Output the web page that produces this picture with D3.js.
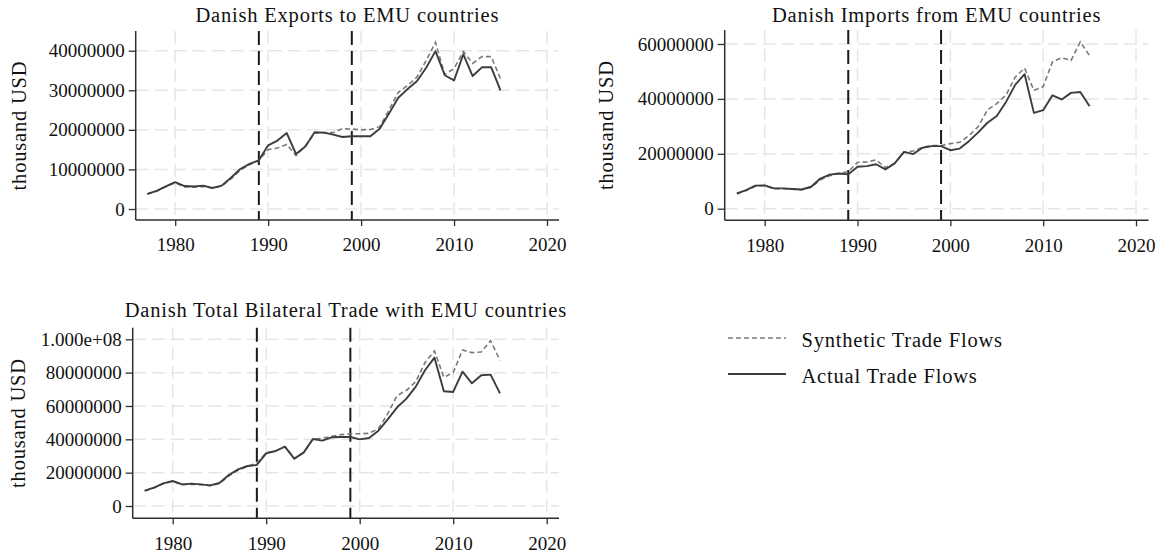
<!DOCTYPE html>
<html>
<head>
<meta charset="utf-8">
<script src="https://cdn.jsdelivr.net/npm/d3@7"></script>
<style>
  html, body { margin: 0; padding: 0; background: #fff; }
  svg { display: block; }
  text { font-family: "Liberation Serif", "Times New Roman", serif; fill: #111; }
</style>
</head>
<body>
<svg id="chart" width="1167" height="557"></svg>
<script>
// Years covered by every series
const years = d3.range(1977, 2016);

// Danish exports to EMU countries (thousand USD, in millions below)
const exportsActual = [3.8, 4.6, 5.7, 6.8, 5.8, 5.7, 5.9, 5.3, 5.9, 7.9, 10.1, 11.4, 12.3, 16.1, 17.3, 19.2, 13.9, 15.8, 19.4, 19.3, 18.8, 18.2, 18.4, 18.4, 18.4, 20.3, 24.1, 28.1, 30.3, 32.3, 35.7, 39.9, 33.8, 32.5, 39.1, 33.6, 35.8, 35.8, 30.0];
const exportsSynthetic = [3.7, 4.5, 5.7, 6.6, 5.6, 5.5, 5.7, 5.3, 5.8, 7.6, 9.8, 11.2, 12.3, 15.0, 15.4, 16.3, 13.5, 15.9, 19.2, 19.3, 19.3, 20.3, 20.2, 20.0, 20.1, 20.8, 25.0, 29.5, 31.2, 33.3, 37.5, 42.1, 34.0, 35.5, 39.8, 36.8, 38.5, 38.5, 32.9];

// Danish imports from EMU countries
const importsActual = [5.6, 6.8, 8.4, 8.5, 7.4, 7.4, 7.2, 7.0, 8.0, 11.0, 12.4, 12.8, 12.5, 15.3, 15.5, 16.2, 14.3, 16.5, 20.7, 19.9, 22.2, 22.8, 22.8, 21.3, 21.9, 24.6, 27.8, 31.3, 33.8, 38.9, 45.2, 49.0, 34.9, 35.9, 41.3, 39.8, 42.2, 42.5, 37.3];
const importsSynthetic = [5.4, 6.6, 8.2, 8.4, 7.3, 7.3, 7.1, 6.9, 7.8, 10.5, 12.0, 12.8, 13.5, 16.9, 17.0, 17.8, 15.0, 16.5, 20.5, 21.0, 22.4, 23.0, 23.0, 23.7, 24.2, 26.6, 29.9, 36.0, 38.3, 41.4, 48.0, 51.2, 43.1, 44.5, 53.5, 55.0, 54.0, 60.8, 55.7];

// Danish total bilateral trade with EMU countries
const totalActual = [9.2, 11.0, 13.6, 15.0, 13.0, 13.4, 13.0, 12.4, 13.8, 18.6, 22.0, 24.0, 24.6, 31.6, 33.0, 35.6, 28.4, 32.0, 40.2, 39.2, 41.2, 41.4, 41.4, 40.0, 40.8, 45.2, 52.0, 59.2, 64.4, 71.6, 81.6, 89.0, 68.8, 68.4, 80.6, 73.6, 78.4, 78.8, 67.6];
const totalSynthetic = [9.0, 10.8, 13.5, 14.8, 12.8, 13.0, 12.8, 12.2, 13.5, 18.0, 21.5, 23.8, 25.6, 32.0, 33.0, 35.6, 28.4, 32.0, 40.2, 40.6, 41.8, 42.8, 43.3, 43.3, 43.6, 46.4, 55.4, 66.2, 69.4, 74.6, 86.2, 93.0, 77.2, 80.0, 93.6, 92.0, 92.4, 99.2, 87.4];

// Axis ticks
const xTicks = [1980, 1990, 2000, 2010, 2020];
const yTicksExports = [0, 10e6, 20e6, 30e6, 40e6];
const yTicksImports = [0, 20e6, 40e6, 60e6];
const yTicksTotal = [0, 20e6, 40e6, 60e6, 80e6, 100e6];

// Treatment dates marked by vertical lines
const markerYears = [1989, 1999];

const titles = [
  "Danish Exports to EMU countries",
  "Danish Imports from EMU countries",
  "Danish Total Bilateral Trade with EMU countries"
];
const yAxisTitle = "thousand USD";
const legendLabels = ["Synthetic Trade Flows", "Actual Trade Flows"];

const MILLION = 1e6;

const svg = d3.select("#chart");

const colActual = "#3c3c3c";
const colSynth = "#7a7a7a";
const colGrid = "#e6e6e6";
const colAxis = "#2e2e2e";
const colText = "#111";

// Stata-style number labels: integers, exponent form from 1e8 on
function tickFormat(v) {
  if (v >= 1e8) {
    return v.toExponential(3).replace(/e\+(\d)$/, "e+0$1");
  }
  return d3.format("d")(v);
}

const panels = [
  { title: titles[0], actual: exportsActual, synth: exportsSynthetic, yTicks: yTicksExports,
    left: 135.7, right: 559, top: 31, bottom: 220,
    x1980: 175.2, x2020: 547, yZero: 209, yTopTick: 50.7,
    titleY: 22, yTitleX: 19 },
  { title: titles[1], actual: importsActual, synth: importsSynthetic, yTicks: yTicksImports,
    left: 724.7, right: 1148.5, top: 30, bottom: 220.3,
    x1980: 764.7, x2020: 1136, yZero: 208.7, yTopTick: 44,
    titleY: 22, yTitleX: 606 },
  { title: titles[2], actual: totalActual, synth: totalSynthetic, yTicks: yTicksTotal,
    left: 132.7, right: 559, top: 327.7, bottom: 518.3,
    x1980: 172.7, x2020: 546.7, yZero: 506, yTopTick: 339.3,
    titleY: 316.5, yTitleX: 18 }
];

panels.forEach(p => {
  const g = svg.append("g");
  const yMaxTick = p.yTicks[p.yTicks.length - 1];

  const x = d3.scaleLinear().domain([1980, 2020]).range([p.x1980, p.x2020]);
  const y = d3.scaleLinear().domain([0, yMaxTick]).range([p.yZero, p.yTopTick]);

  // dashed grid lines
  const grid = g.append("g")
    .attr("stroke", colGrid)
    .attr("stroke-width", 1.5)
    .attr("stroke-dasharray", "13,6");
  grid.selectAll("line.h").data(p.yTicks).join("line")
    .attr("class", "h")
    .attr("x1", p.left).attr("x2", p.right)
    .attr("y1", d => y(d)).attr("y2", d => y(d));
  grid.selectAll("line.v").data(xTicks).join("line")
    .attr("class", "v")
    .attr("x1", d => x(d)).attr("x2", d => x(d))
    .attr("y1", p.top).attr("y2", p.bottom);

  // treatment date markers
  g.append("g").selectAll("line").data(markerYears).join("line")
    .attr("x1", d => x(d)).attr("x2", d => x(d))
    .attr("y1", p.top).attr("y2", p.bottom)
    .attr("stroke", "#1a1a1a")
    .attr("stroke-width", 2)
    .attr("stroke-dasharray", "14,6");

  // series
  const line = d3.line()
    .x((d, i) => x(years[i]))
    .y(d => y(d * MILLION));

  g.append("path").datum(p.synth)
    .attr("d", line)
    .attr("fill", "none")
    .attr("stroke", colSynth)
    .attr("stroke-width", 1.6)
    .attr("stroke-dasharray", "5,3");

  g.append("path").datum(p.actual)
    .attr("d", line)
    .attr("fill", "none")
    .attr("stroke", colActual)
    .attr("stroke-width", 1.9)
    .attr("stroke-linejoin", "round");

  // y axis
  const yAxis = g.append("g")
    .attr("transform", `translate(${p.left},0)`)
    .call(d3.axisLeft(y).tickValues(p.yTicks).tickFormat(tickFormat).tickSize(7).tickPadding(4));
  yAxis.select(".domain").remove();
  yAxis.selectAll(".tick line").attr("stroke", colAxis).attr("stroke-width", 1.3);
  yAxis.selectAll(".tick text")
    .style("font-family", "'Liberation Serif', serif")
    .style("font-size", "19px")
    .attr("fill", colText);

  // x axis
  const xAxis = g.append("g")
    .attr("transform", `translate(0,${p.bottom})`)
    .call(d3.axisBottom(x).tickValues(xTicks).tickFormat(d3.format("d")).tickSize(6).tickPadding(12));
  xAxis.select(".domain").remove();
  xAxis.selectAll(".tick line").attr("stroke", colAxis).attr("stroke-width", 1.3);
  xAxis.selectAll(".tick text")
    .style("font-family", "'Liberation Serif', serif")
    .style("font-size", "19px")
    .attr("fill", colText);

  // axis lines spanning the plot region
  g.append("line")
    .attr("x1", p.left).attr("x2", p.left)
    .attr("y1", p.top).attr("y2", p.bottom)
    .attr("stroke", colAxis).attr("stroke-width", 1.5);
  g.append("line")
    .attr("x1", p.left).attr("x2", p.right)
    .attr("y1", p.bottom).attr("y2", p.bottom)
    .attr("stroke", colAxis).attr("stroke-width", 1.5);

  // panel title
  g.append("text")
    .attr("x", (p.left + p.right) / 2)
    .attr("y", p.titleY)
    .attr("text-anchor", "middle")
    .style("font-size", "20.5px")
    .style("letter-spacing", "0.8px")
    .text(p.title);

  // y axis title
  g.append("text")
    .attr("transform", `translate(${p.yTitleX},${(p.top + p.bottom) / 2}) rotate(-90)`)
    .attr("text-anchor", "middle")
    .attr("dy", "0.35em")
    .style("font-size", "20.5px")
    .style("letter-spacing", "0.8px")
    .text(yAxisTitle);
});

// legend
const legend = svg.append("g");
const legendRows = [
  { label: legendLabels[0], color: colSynth, dash: "5,3", width: 1.6, y: 340 },
  { label: legendLabels[1], color: colActual, dash: null, width: 1.9, y: 376 }
];
legendRows.forEach(r => {
  legend.append("line")
    .attr("x1", 728).attr("x2", 786)
    .attr("y1", r.y - 2).attr("y2", r.y - 2)
    .attr("stroke", r.color)
    .attr("stroke-width", r.width)
    .attr("stroke-dasharray", r.dash);
  legend.append("text")
    .attr("x", 801.5)
    .attr("y", r.y)
    .attr("dy", "0.35em")
    .style("font-size", "20.5px")
    .style("letter-spacing", "0.8px")
    .text(r.label);
});
</script>
</body>
</html>
